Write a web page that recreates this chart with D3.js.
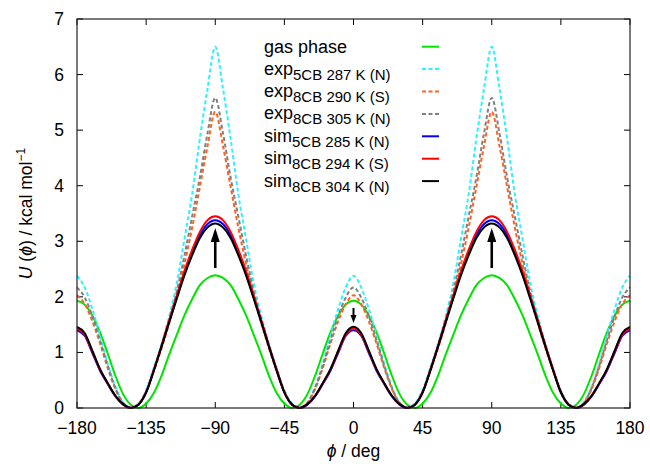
<!DOCTYPE html>
<html>
<head>
<meta charset="utf-8">
<script src="https://cdn.jsdelivr.net/npm/d3@7"></script>
<style>
body { margin: 0; background: #fff; }
text { font-family: "Liberation Sans", Arial, sans-serif; fill: #000; }
</style>
</head>
<body>
<div id="chart"></div>
<script>
var width = 650;
var height = 464;

// torsion angle samples (deg)
var phi = [-180,-175,-170,-165,-160,-155,-150,-145,-140,-135,-130,-125,-120,-115,-110,-105,-100,-95,-90,
    -85,-80,-75,-70,-65,-60,-55,-50,-45,-40,-35,-30,-25,-20,-15,-10,-5,0,
    5,10,15,20,25,30,35,40,45,50,55,60,65,70,75,80,85,90,
    95,100,105,110,115,120,125,130,135,140,145,150,155,160,165,170,175,180];

// U(phi) in kcal/mol
var gasPhase = [1.93,1.86,1.66,1.36,0.98,0.58,0.25,0.06,0.00,0.08,0.27,0.58,0.96,1.32,1.67,1.96,2.21,2.34,2.39,
    2.34,2.21,1.96,1.67,1.32,0.96,0.58,0.27,0.08,0.00,0.06,0.25,0.58,0.98,1.36,1.66,1.86,1.93,
    1.86,1.66,1.36,0.98,0.58,0.25,0.06,0.00,0.08,0.27,0.58,0.96,1.32,1.67,1.96,2.21,2.34,2.39,
    2.34,2.21,1.96,1.67,1.32,0.96,0.58,0.27,0.08,0.00,0.06,0.25,0.58,0.98,1.36,1.66,1.86,1.93];
var exp5CB287 = [2.38,2.17,1.78,1.30,0.80,0.38,0.10,0.01,0.08,0.32,0.72,1.15,1.65,2.25,3.05,3.85,4.85,5.75,6.50,
    5.75,4.85,3.85,3.05,2.25,1.65,1.15,0.72,0.32,0.08,0.01,0.10,0.38,0.80,1.30,1.78,2.17,2.38,
    2.17,1.78,1.30,0.80,0.38,0.10,0.01,0.08,0.32,0.72,1.15,1.65,2.25,3.05,3.85,4.85,5.75,6.50,
    5.75,4.85,3.85,3.05,2.25,1.65,1.15,0.72,0.32,0.08,0.01,0.10,0.38,0.80,1.30,1.78,2.17,2.38];
var exp8CB290 = [2.03,1.87,1.56,1.16,0.72,0.34,0.09,0.01,0.07,0.29,0.66,1.07,1.52,2.02,2.60,3.25,3.98,4.72,5.33,
    4.72,3.98,3.25,2.60,2.02,1.52,1.07,0.66,0.29,0.07,0.01,0.09,0.34,0.72,1.16,1.56,1.87,2.03,
    1.87,1.56,1.16,0.72,0.34,0.09,0.01,0.07,0.29,0.66,1.07,1.52,2.02,2.60,3.25,3.98,4.72,5.33,
    4.72,3.98,3.25,2.60,2.02,1.52,1.07,0.66,0.29,0.07,0.01,0.09,0.34,0.72,1.16,1.56,1.87,2.03];
var exp8CB305 = [2.17,1.99,1.65,1.22,0.76,0.36,0.09,0.01,0.07,0.30,0.68,1.10,1.58,2.10,2.75,3.45,4.15,4.95,5.58,
    4.95,4.15,3.45,2.75,2.10,1.58,1.10,0.68,0.30,0.07,0.01,0.09,0.36,0.76,1.22,1.65,1.99,2.17,
    1.99,1.65,1.22,0.76,0.36,0.09,0.01,0.07,0.30,0.68,1.10,1.58,2.10,2.75,3.45,4.15,4.95,5.58,
    4.95,4.15,3.45,2.75,2.10,1.58,1.10,0.68,0.30,0.07,0.01,0.09,0.36,0.76,1.22,1.65,1.99,2.17];
var sim5CB285 = [1.40,1.30,0.99,0.67,0.43,0.21,0.06,0.00,0.06,0.28,0.68,1.11,1.56,2.00,2.43,2.80,3.11,3.31,3.38,
    3.31,3.11,2.80,2.43,2.00,1.56,1.11,0.68,0.28,0.06,0.00,0.06,0.21,0.43,0.67,0.99,1.30,1.40,
    1.30,0.99,0.67,0.43,0.21,0.06,0.00,0.06,0.28,0.68,1.11,1.56,2.00,2.43,2.80,3.11,3.31,3.38,
    3.31,3.11,2.80,2.43,2.00,1.56,1.11,0.68,0.28,0.06,0.00,0.06,0.21,0.43,0.67,0.99,1.30,1.40];
var sim8CB294 = [1.43,1.32,1.01,0.69,0.44,0.22,0.07,0.00,0.06,0.28,0.69,1.12,1.58,2.03,2.47,2.85,3.17,3.38,3.45,
    3.38,3.17,2.85,2.47,2.03,1.58,1.12,0.69,0.28,0.06,0.00,0.07,0.22,0.44,0.69,1.01,1.32,1.43,
    1.32,1.01,0.69,0.44,0.22,0.07,0.00,0.06,0.28,0.69,1.12,1.58,2.03,2.47,2.85,3.17,3.38,3.45,
    3.38,3.17,2.85,2.47,2.03,1.58,1.12,0.69,0.28,0.06,0.00,0.07,0.22,0.44,0.69,1.01,1.32,1.43];
var sim8CB304 = [1.46,1.35,1.03,0.70,0.45,0.22,0.07,0.00,0.06,0.28,0.67,1.10,1.54,1.97,2.39,2.75,3.06,3.25,3.32,
    3.25,3.06,2.75,2.39,1.97,1.54,1.10,0.67,0.28,0.06,0.00,0.07,0.22,0.45,0.70,1.03,1.35,1.46,
    1.35,1.03,0.70,0.45,0.22,0.07,0.00,0.06,0.28,0.67,1.10,1.54,1.97,2.39,2.75,3.06,3.25,3.32,
    3.25,3.06,2.75,2.39,1.97,1.54,1.10,0.67,0.28,0.06,0.00,0.07,0.22,0.45,0.70,1.03,1.35,1.46];

var legendMain = ["gas phase", "exp", "exp", "exp", "sim", "sim", "sim"];
var legendSub = ["", "5CB 287 K (N)", "8CB 290 K (S)", "8CB 305 K (N)", "5CB 285 K (N)", "8CB 294 K (S)", "8CB 304 K (N)"];

var xTicks = [-180, -135, -90, -45, 0, 45, 90, 135, 180];
var yTicks = [0, 1, 2, 3, 4, 5, 6, 7];

// arrows: angle, start and end (kcal/mol)
var arrowPhi = [-90, 0, 90];
var arrowFrom = [2.52, 1.80, 2.52];
var arrowTo = [3.24, 1.53, 3.24];

var allSeries = [gasPhase, exp5CB287, exp8CB290, exp8CB305, sim5CB285, sim8CB294, sim8CB304];
var colors = ["#00e400", "#2ef0ff", "#ff6220", "#808080", "#0000ff", "#ff0000", "#000000"];
var dashes = [null, "4,2.5", "4,2.5", "4,2.5", null, null, null];

var margin = {left: 77, right: 20, top: 19, bottom: 56};

var svg = d3.select("#chart").append("svg")
    .attr("width", width)
    .attr("height", height);

var x = d3.scaleLinear()
    .domain([-180, 180])
    .range([margin.left, width - margin.right]);

var y = d3.scaleLinear()
    .domain([0, 7])
    .range([height - margin.bottom, margin.top]);

var x0 = x.range()[0], x1 = x.range()[1];
var y0 = y.range()[0], y1 = y.range()[1];

// ticks on all four sides, pointing inward
var tickLen = 6;
var ticks = svg.append("g").attr("stroke", "#000").attr("stroke-width", 1);
xTicks.forEach(function(t){
    ticks.append("line").attr("x1", x(t)).attr("x2", x(t)).attr("y1", y0).attr("y2", y0 - tickLen);
    ticks.append("line").attr("x1", x(t)).attr("x2", x(t)).attr("y1", y1).attr("y2", y1 + tickLen);
});
yTicks.forEach(function(t){
    ticks.append("line").attr("x1", x0).attr("x2", x0 + tickLen).attr("y1", y(t)).attr("y2", y(t));
    ticks.append("line").attr("x1", x1).attr("x2", x1 - tickLen).attr("y1", y(t)).attr("y2", y(t));
});

svg.append("g").selectAll("text")
    .data(xTicks)
    .enter()
    .append("text")
    .attr("x", d => x(d))
    .attr("y", y0 + 26)
    .attr("text-anchor", "middle")
    .style("font-size", "17.5px")
    .text(d => d < 0 ? "\u2212" + Math.abs(d) : d);

svg.append("g").selectAll("text")
    .data(yTicks)
    .enter()
    .append("text")
    .attr("x", x0 - 13)
    .attr("y", d => y(d) + 6)
    .attr("text-anchor", "end")
    .style("font-size", "17.5px")
    .text(d => d);

// curves
var line = d3.line()
    .x((d, i) => x(phi[i]))
    .y(d => y(d))
    .curve(d3.curveMonotoneX);

svg.append("g").selectAll("path")
    .data(allSeries)
    .enter()
    .append("path")
    .attr("d", d => line(d))
    .attr("fill", "none")
    .attr("stroke", (d, i) => colors[i])
    .attr("stroke-width", 2)
    .attr("stroke-dasharray", (d, i) => dashes[i]);

// arrows
var arrows = svg.append("g");
arrowPhi.forEach(function(p, i){
    var big = arrowTo[i] > arrowFrom[i];
    var headLen = big ? 14 : 8;
    var headW = big ? 4.5 : 3;
    var xa = x(p), ya = y(arrowFrom[i]), yb = y(arrowTo[i]);
    var dir = yb < ya ? 1 : -1;
    arrows.append("line")
        .attr("x1", xa).attr("x2", xa)
        .attr("y1", ya).attr("y2", yb + dir * headLen * 0.8)
        .attr("stroke", "#000")
        .attr("stroke-width", big ? 2.6 : 2);
    arrows.append("path")
        .attr("d", "M" + xa + "," + yb + "L" + (xa - headW) + "," + (yb + dir * headLen) +
            "L" + (xa + headW) + "," + (yb + dir * headLen) + "Z")
        .attr("fill", "#000");
});

// frame
svg.append("rect")
    .attr("x", x0).attr("y", y1)
    .attr("width", x1 - x0).attr("height", y0 - y1)
    .attr("fill", "none")
    .attr("stroke", "#222")
    .attr("stroke-width", 1.2);

// legend
var legend = svg.append("g");
legendMain.forEach(function(m, i){
    var ly = 46.7 + i * 22.4;
    var t = legend.append("text")
        .attr("x", 264)
        .attr("y", ly + (i == 0 ? 6.5 : 5.5))
        .style("font-size", "18px")
        .text(m);
    if (legendSub[i]) {
        t.append("tspan")
            .attr("dy", 5)
            .style("font-size", "15px")
            .text(legendSub[i]);
    }
    legend.append("line")
        .attr("x1", 422).attr("x2", 439)
        .attr("y1", ly).attr("y2", ly)
        .attr("stroke", colors[i])
        .attr("stroke-width", 2)
        .attr("stroke-dasharray", dashes[i]);
});

// axis labels
svg.append("text")
    .attr("x", (x0 + x1) / 2)
    .attr("y", 457)
    .attr("text-anchor", "middle")
    .style("font-size", "17.5px")
    .html("<tspan font-style='italic'>\u03d5</tspan> / deg");

svg.append("text")
    .attr("transform", "translate(32," + ((y0 + y1) / 2) + ") rotate(-90)")
    .attr("text-anchor", "middle")
    .style("font-size", "17.5px")
    .html("<tspan font-style='italic'>U</tspan> (<tspan font-style='italic'>\u03d5</tspan>) / kcal mol<tspan dy='-7' font-size='12px'>\u22121</tspan>");
</script>
</body>
</html>
